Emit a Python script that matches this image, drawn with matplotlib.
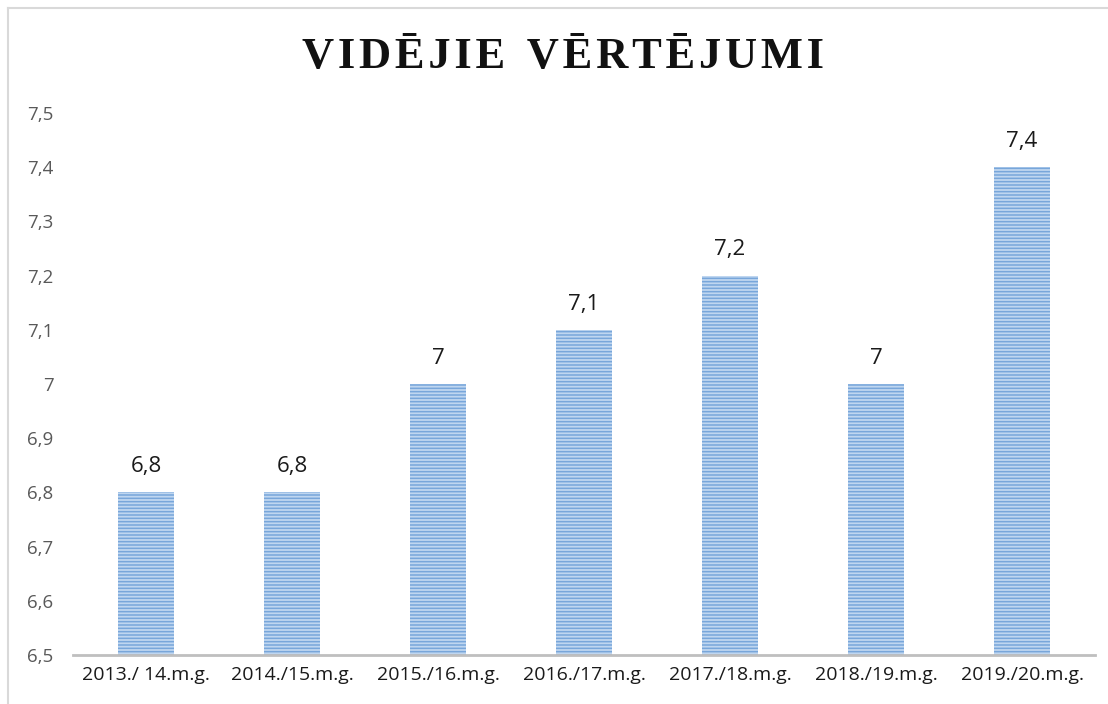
import matplotlib.pyplot as plt
from matplotlib.lines import Line2D

seasons = ['2013./ 14.m.g.', '2014./15.m.g.', '2015./16.m.g.', '2016./17.m.g.',
           '2017./18.m.g.', '2018./19.m.g.', '2019./20.m.g.']
averages = [6.8, 6.8, 7.0, 7.1, 7.2, 7.0, 7.4]
value_labels = ['6,8', '6,8', '7', '7,1', '7,2', '7', '7,4']
y_ticks = [6.5, 6.6, 6.7, 6.8, 6.9, 7.0, 7.1, 7.2, 7.3, 7.4, 7.5]
y_tick_labels = ['6,5', '6,6', '6,7', '6,8', '6,9', '7', '7,1', '7,2', '7,3', '7,4', '7,5']

plt.rcParams['font.family'] = ['Open Sans', 'DejaVu Sans']
plt.rcParams['hatch.linewidth'] = 1.1

fig = plt.figure(figsize=(11.08, 7.04), dpi=100)
ax = fig.add_axes([0.0659, 0.0696, 0.9224, 0.7699])

x = range(len(seasons))
# striped bars: light fill, darker horizontal hatch lines
bars = ax.bar(x, averages, width=0.385, bottom=0, color='#BFD6F0',
              edgecolor='#78A6DA', linewidth=0, hatch='-----')

for xi, v, lab in zip(x, averages, value_labels):
    ax.annotate(lab, (xi, v), xytext=(0, 11), textcoords='offset points',
                ha='center', va='bottom', fontsize=16, color='#1a1a1a')

ax.set_ylim(6.5, 7.5)
ax.set_xlim(-0.5, len(seasons) - 0.5)
ax.set_yticks(y_ticks)
ax.set_yticklabels(y_tick_labels)
ax.set_xticks(list(x))
ax.set_xticklabels(seasons)
ax.tick_params(axis='y', length=0, labelsize=13.5, colors='#595959', pad=14)
ax.tick_params(axis='x', length=0, labelsize=14, colors='#1a1a1a', pad=8)

for side in ['top', 'right', 'left']:
    ax.spines[side].set_visible(False)
ax.spines['bottom'].set_color('#BFBFBF')
ax.spines['bottom'].set_linewidth(2)

title = '\u200a'.join('VIDĒJIE') + '  ' + '\u200a'.join('VĒRTĒJUMI')
fig.text(0.508, 0.919, title, ha='center', va='center', fontsize=32,
         fontweight='bold', family='Liberation Serif', color='#111111')

fig.add_artist(Line2D([8/1108, 1], [1 - 8/704, 1 - 8/704], color='#D9D9D9', lw=1.5))
fig.add_artist(Line2D([8/1108, 8/1108], [0, 1 - 8/704], color='#D9D9D9', lw=1.5))

plt.savefig('out.png', dpi=100)
